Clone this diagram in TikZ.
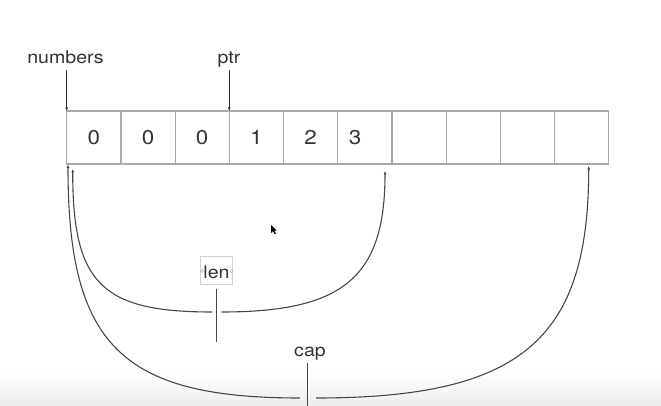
\documentclass[tikz,border=0pt]{standalone}
\usepackage{fontspec}
\setmainfont{TeX Gyre Heros}[FakeStretch=1.12]
\usetikzlibrary{arrows.meta,calc}
\definecolor{ink}{HTML}{333333}
\definecolor{cellline}{HTML}{AAAAAA}
\definecolor{selbox}{HTML}{C9D2DE}
\begin{document}
\begin{tikzpicture}[x=1pt,y=-1pt,
  cell/.style={draw=cellline,line width=1.2pt,minimum width=54.2pt,minimum height=53pt,
    inner sep=0pt,outer sep=0pt,font=\fontsize{20}{24}\selectfont,text=ink},
  digit/.style={font=\fontsize{20}{24}\selectfont,text=ink,inner sep=0pt},
  lbl/.style={font=\fontsize{17.5}{21}\selectfont,text=ink,inner sep=0pt,anchor=base},
  ptrarrow/.style={draw=ink,line width=0.8pt,shorten <=7pt,-{Latex[length=3.5pt,width=3pt]}},
  brace/.style={draw=ink!90,line width=1.1pt},
  bracearrow/.style={brace,-{Latex[length=3.5pt,width=3pt]}},
  handle/.style={draw=gray!60,fill=white,line width=0.5pt},
]
\useasboundingbox (0,0) rectangle (661,406);
\shade[top color=white,bottom color=gray!14] (0,372) rectangle (661,406);

% array cells
\foreach \i/\t in {0/0,1/0,2/0,3/1,4/2,5/,6/,7/,8/,9/}
  \node[cell] (c\i) at ({66.7+27.1+54.2*\i},137.5) {\t};
\node[digit] (t5) at (355,137.5) {3};

% pointer labels
\node[lbl] (numbers) at (65.5,63.3) {numbers};
\node[lbl] (ptr) at (229,63.3) {ptr};
\draw[ptrarrow] (numbers.base -| c0.north west) -- (c0.north west);
\draw[ptrarrow] (ptr.base -| c3.north west) -- (c3.north west);

% len label with selection box
\node[lbl] (len) at (216.5,278.3) {len};
\draw[selbox,line width=0.6pt] ($(len.base)+(-15.8,-21.6)$) rectangle ($(len.base)+(15.5,6)$);
\draw[handle] ($(len.base)+(-14.5,-7.3)$) circle (1.4pt);
\draw[handle] ($(len.base)+(15,-7.3)$) circle (1.4pt);

% len brace
\coordinate (lentop) at (216.7,289);
\coordinate (lentick) at (216.7,342);
\coordinate (lenL) at (212,312);
\coordinate (lenR) at (221.7,312);
\coordinate (lenTipL) at (72.7,169);
\coordinate (lenTipR) at (385,171);
\draw[brace] (lentop) -- (lentick);
\draw[bracearrow] (lenL) .. controls +(-111,0) and +(0,114) .. (lenTipL);
\draw[bracearrow] (lenR) .. controls +(122,0) and +(0,106) .. (lenTipR);

% cap brace
\node[lbl] (cap) at (310,356.7) {cap};
\coordinate (captop) at (307.7,363);
\coordinate (captick) at (307.7,406);
\coordinate (capL) at (300,398);
\coordinate (capR) at (316,398);
\coordinate (capTipL) at (68,164.5);
\coordinate (capTipR) at (588.7,166);
\draw[brace] (captop) -- (captick);
\draw[bracearrow] (capL) .. controls +(-179,0) and +(0,180) .. (capTipL);
\draw[bracearrow] (capR) .. controls +(205,0) and +(0,174) .. (capTipR);

% mouse pointer
\fill[black] (271,225) -- (271,233) -- (273,231) -- (274.6,234.2) -- (275.8,233.6) -- (274.3,230.6) -- (276.6,230.6) -- cycle;
\end{tikzpicture}
\end{document}
